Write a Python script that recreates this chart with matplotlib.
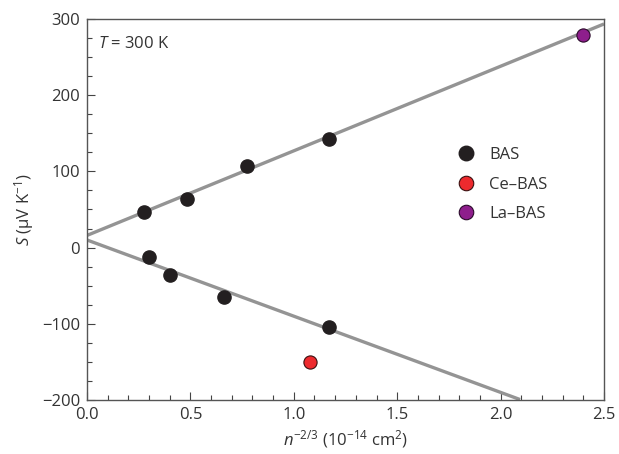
import matplotlib
matplotlib.use('Agg')
import matplotlib.pyplot as plt
import numpy as np
from matplotlib.ticker import MultipleLocator

plt.rcParams['font.family'] = ['Open Sans', 'DejaVu Sans']
plt.rcParams['mathtext.fontset'] = 'custom'
plt.rcParams['mathtext.it'] = 'Open Sans:italic'
plt.rcParams['mathtext.rm'] = 'Open Sans'

# data
bas_p_x = [0.276, 0.483, 0.774, 1.17]
bas_p_y = [47, 64, 107, 143]
bas_n_x = [0.30, 0.40, 0.664, 1.17]
bas_n_y = [-12, -36, -65, -104]
ce_x = [1.08]
ce_y = [-150]
la_x = [2.40]
la_y = [279]

# fit lines (intercept, slope, end x)
fit_p = (16, 111, 2.5)
fit_n = (10, -100, 2.094)

fig = plt.figure(figsize=(6.19, 4.54), dpi=100)
ax = fig.add_axes([87/619, 1-400/454, (604-87)/619, (400-19)/454])

grey = '#949494'
for b, m, xe in (fit_p, fit_n):
    xs = np.array([0, xe])
    ax.plot(xs, b + m*xs, color=grey, lw=2.4, solid_capstyle='butt', zorder=2)

ms = 9.5
ax.plot(bas_p_x + bas_n_x, bas_p_y + bas_n_y, 'o', color='#231f20', ms=ms,
        mec='#231f20', label='BAS', zorder=3)
ax.plot(ce_x, ce_y, 'o', color='#ed2a2e', ms=ms, mec='#3a1010', mew=0.8,
        label='Ce\u2013BAS', zorder=3)
ax.plot(la_x, la_y, 'o', color='#8e1e8c', ms=ms, mec='#2a0a2a', mew=0.8,
        label='La\u2013BAS', zorder=3)

ax.set_xlim(0, 2.5)
ax.set_ylim(-200, 300)
ax.xaxis.set_minor_locator(MultipleLocator(0.1))
ax.yaxis.set_minor_locator(MultipleLocator(25))
ax.set_xticks(np.arange(0, 2.51, 0.5))
ax.set_xticklabels(['0.0', '0.5', '1.0', '1.5', '2.0', '2.5'])
ax.set_yticks(np.arange(-200, 301, 100))
ax.set_yticklabels(['\u2212200', '\u2212100', '0', '100', '200', '300'])

ax.tick_params(which='both', direction='in', top=False, right=False,
               labelsize=12, color='#444444', labelcolor='#333333')
ax.tick_params(which='major', length=6, width=0.8, pad=5)
ax.tick_params(which='minor', length=3.5, width=0.8)
for s in ax.spines.values():
    s.set_color('#555555')
    s.set_linewidth(1.0)

ax.set_xlabel('$n^{\\mathrm{-2/3}}$ (10$^{\\mathrm{-14}}$ cm$^{\\mathrm{2}}$)',
              fontsize=12, color='#333333', labelpad=4)
ax.set_ylabel('$S$ (\u00b5V K$^{\\mathrm{-1}}$)', fontsize=12,
              color='#333333', labelpad=4)

ax.text(0.022, 0.935, '$T$ = 300 K', transform=ax.transAxes, fontsize=12,
        color='#333333', va='center')

ax.legend(loc='upper left', bbox_to_anchor=(0.688, 0.681), frameon=False,
          fontsize=12, handletextpad=0.4, labelspacing=0.8, markerscale=1.1,
          borderaxespad=0, labelcolor='#333333')

fig.savefig('out.png', dpi=100)
